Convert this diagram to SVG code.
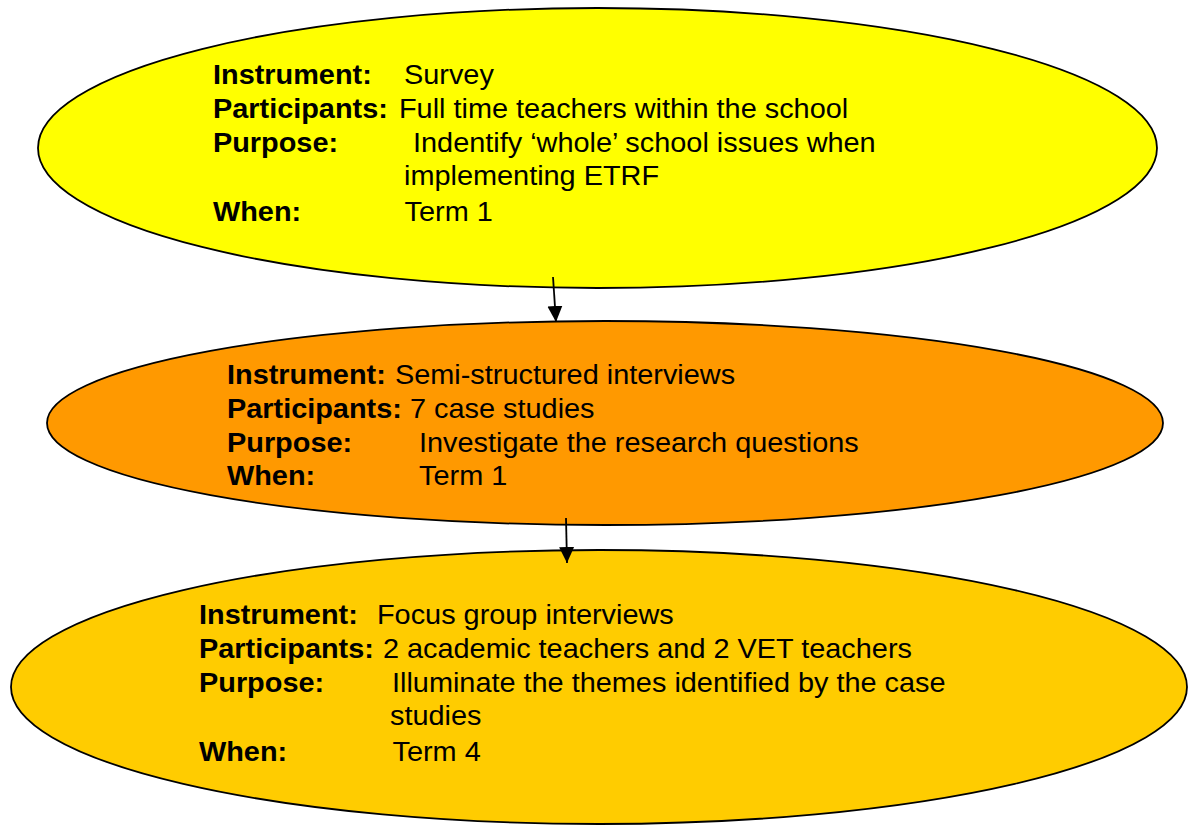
<svg xmlns="http://www.w3.org/2000/svg" width="1193" height="825" viewBox="0 0 1193 825">
  <style>
    .shape { stroke: #000; stroke-width: 1.8; }
    .lbl { font-family: "Liberation Sans", Arial, sans-serif; font-size: 27.5px; font-weight: bold; fill: #000; }
    .val { font-family: "Liberation Sans", Arial, sans-serif; font-size: 27.5px; fill: #000; }
    .conn { stroke: #000; stroke-width: 1.8; fill: none; }
  </style>
  <defs>
    <marker id="arrow" markerUnits="userSpaceOnUse" markerWidth="17" markerHeight="17" viewBox="0 0 17 17" refX="16" refY="8.5" orient="auto">
      <path d="M0,1 L16,8.5 L0,16 Z" fill="#000"/>
    </marker>
  </defs>
  <rect width="1193" height="825" fill="#fff"/>

  <g id="node-survey">
    <ellipse class="shape" cx="597.5" cy="148" rx="559.5" ry="140" fill="#FFFF00"/>
    <g transform="matrix(1.05 0 0 1 -10.65 0)">
      <text class="lbl" x="213" y="84">Instrument:</text>
      <text class="val" x="394.9" y="84">Survey</text>
      <text class="lbl" x="213" y="118">Participants:</text>
      <text class="val" x="390.1" y="118">Full time teachers within the school</text>
      <text class="lbl" x="213" y="152">Purpose:</text>
      <text class="val" x="403.5" y="152">Indentify ‘whole’ school issues when</text>
      <text class="val" x="394.9" y="185">implementing ETRF</text>
      <text class="lbl" x="213" y="221">When:</text>
      <text class="val" x="395.5" y="221">Term 1</text>
    </g>
  </g>

  <g id="node-interviews">
    <ellipse class="shape" cx="605" cy="423" rx="558" ry="102" fill="#FF9900"/>
    <g transform="matrix(1.05 0 0 1 -11.35 0)">
      <text class="lbl" x="227" y="384">Instrument:</text>
      <text class="val" x="387" y="384">Semi-structured interviews</text>
      <text class="lbl" x="227" y="418">Participants:</text>
      <text class="val" x="401.3" y="418">7 case studies</text>
      <text class="lbl" x="227" y="452">Purpose:</text>
      <text class="val" x="409.9" y="452">Investigate the research questions</text>
      <text class="lbl" x="227" y="485">When:</text>
      <text class="val" x="409.9" y="485">Term 1</text>
    </g>
  </g>

  <g id="node-focus">
    <ellipse class="shape" cx="599" cy="687" rx="588" ry="137" fill="#FFCC00"/>
    <g transform="matrix(1.05 0 0 1 -9.95 0)">
      <text class="lbl" x="199" y="624">Instrument:</text>
      <text class="val" x="368.5" y="624">Focus group interviews</text>
      <text class="lbl" x="199" y="658">Participants:</text>
      <text class="val" x="374.2" y="658">2 academic teachers and 2 VET teachers</text>
      <text class="lbl" x="199" y="692">Purpose:</text>
      <text class="val" x="382.8" y="692">Illuminate the themes identified by the case</text>
      <text class="val" x="380.9" y="725">studies</text>
      <text class="lbl" x="199" y="761">When:</text>
      <text class="val" x="383.3" y="761">Term 4</text>
    </g>
  </g>

  <g id="connectors">
    <line class="conn" x1="553" y1="277" x2="556" y2="322" marker-end="url(#arrow)"/>
    <line class="conn" x1="566" y1="518" x2="567" y2="563" marker-end="url(#arrow)"/>
  </g>
</svg>
